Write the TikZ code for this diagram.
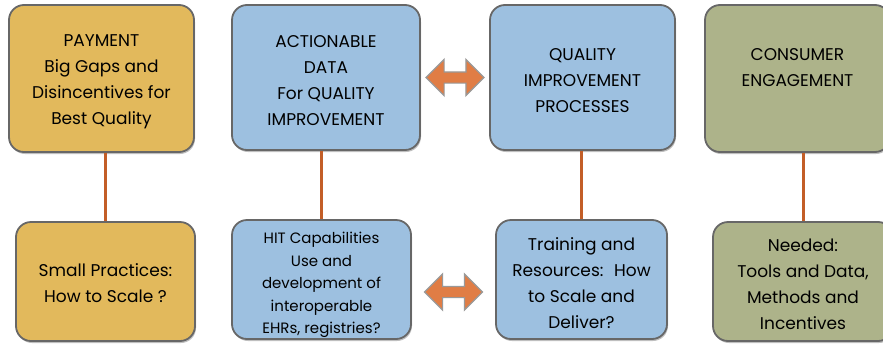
\documentclass[tikz,border=0pt]{standalone}
\usepackage{fontspec}
\setmainfont{Poppins}
\usetikzlibrary{positioning,shapes.arrows,shadows,calc}
\definecolor{gold}{HTML}{E2B95C}
\definecolor{sky}{HTML}{9DC0E0}
\definecolor{olive}{HTML}{ADB38A}
\definecolor{rust}{HTML}{C35E27}
\definecolor{peach}{HTML}{E07D45}
\definecolor{rim}{HTML}{676767}
\tikzset{
  box/.style={draw=rim, line width=1.8pt, rounded corners=15pt, align=center,
    inner sep=0pt, font=\fontsize{17}{26}\selectfont,
    execute at end node={\rule[-4pt]{0pt}{0pt}},
    drop shadow={shadow xshift=1pt, shadow yshift=-2pt, opacity=0.5}},
  goldbox/.style={box, fill=gold},
  skybox/.style={box, fill=sky},
  olivebox/.style={box, fill=olive},
  tie/.style={draw=rust, line width=3pt},
  swap/.style={double arrow, draw=gray!80, line width=1.2pt, fill=peach,
    inner sep=5pt, minimum height=58pt, double arrow head extend=12.5pt}
}

\begin{document}
\begin{tikzpicture}[x=1pt, y=-1pt, node distance = 203pt]
    \useasboundingbox (0,0) rectangle (883,343);
    \node[goldbox, minimum width=185pt, minimum height=147pt, text height=97pt] (pay) at (101.5,78.5)
      {PAYMENT\\Big Gaps and\\Disincentives for\\Best Quality};
    \node[skybox, minimum width=188pt, minimum height=145pt, text height=100pt] (data) at (326,77.5)
      {ACTIONABLE\\DATA\\For QUALITY\\IMPROVEMENT};
    \node[skybox, minimum width=185pt, minimum height=145pt, text height=74pt] (qip) at (582.5,77.5)
      {QUALITY\\IMPROVEMENT\\PROCESSES};
    \node[olivebox, minimum width=185pt, minimum height=147pt, text height=72pt] (cons) at (797.5,78.5)
      {CONSUMER\\ENGAGEMENT\\\mbox{}};

    \node[goldbox, minimum width=179pt, minimum height=119pt, text height=46pt] (small) [below of = pay, xshift=4pt]
      {Small Practices:\\How to Scale ?};
    \node[skybox, minimum width=179pt, minimum height=119pt, font=\fontsize{15}{22.5}\selectfont, text height=113pt]
      (hit) [below of = data, xshift=-4.5pt, yshift=1pt]
      {HIT Capabilities\\Use and\\development of\\interoperable\\EHRs, registries?};
    \node[skybox, minimum width=171pt, minimum height=119pt, text height=102.5pt] (train) [below of = qip, xshift=-1pt, yshift=1pt]
      {Training and\\Resources:~ How\\to Scale and\\Deliver?};
    \node[olivebox, minimum width=180pt, minimum height=119pt, text height=99.5pt] (need) [below of = cons, xshift=5.5pt]
      {Needed:\\Tools and Data,\\Methods and\\Incentives};

    \path[tie] (pay.south -| small.north) -- (small.north)
               (data.south -| hit.north) -- (hit.north)
               (qip.south -| train.north) -- (train.north)
               (cons.south -| need.north) -- (need.north);

    \node[swap] (topswap) at ($(data.east)!0.5!(qip.west)$) {};
    \node[swap] (lowswap) at ($(hit.east)!0.5!(train.west) + (0,12.5)$) {};
  \end{tikzpicture}
\end{document}
